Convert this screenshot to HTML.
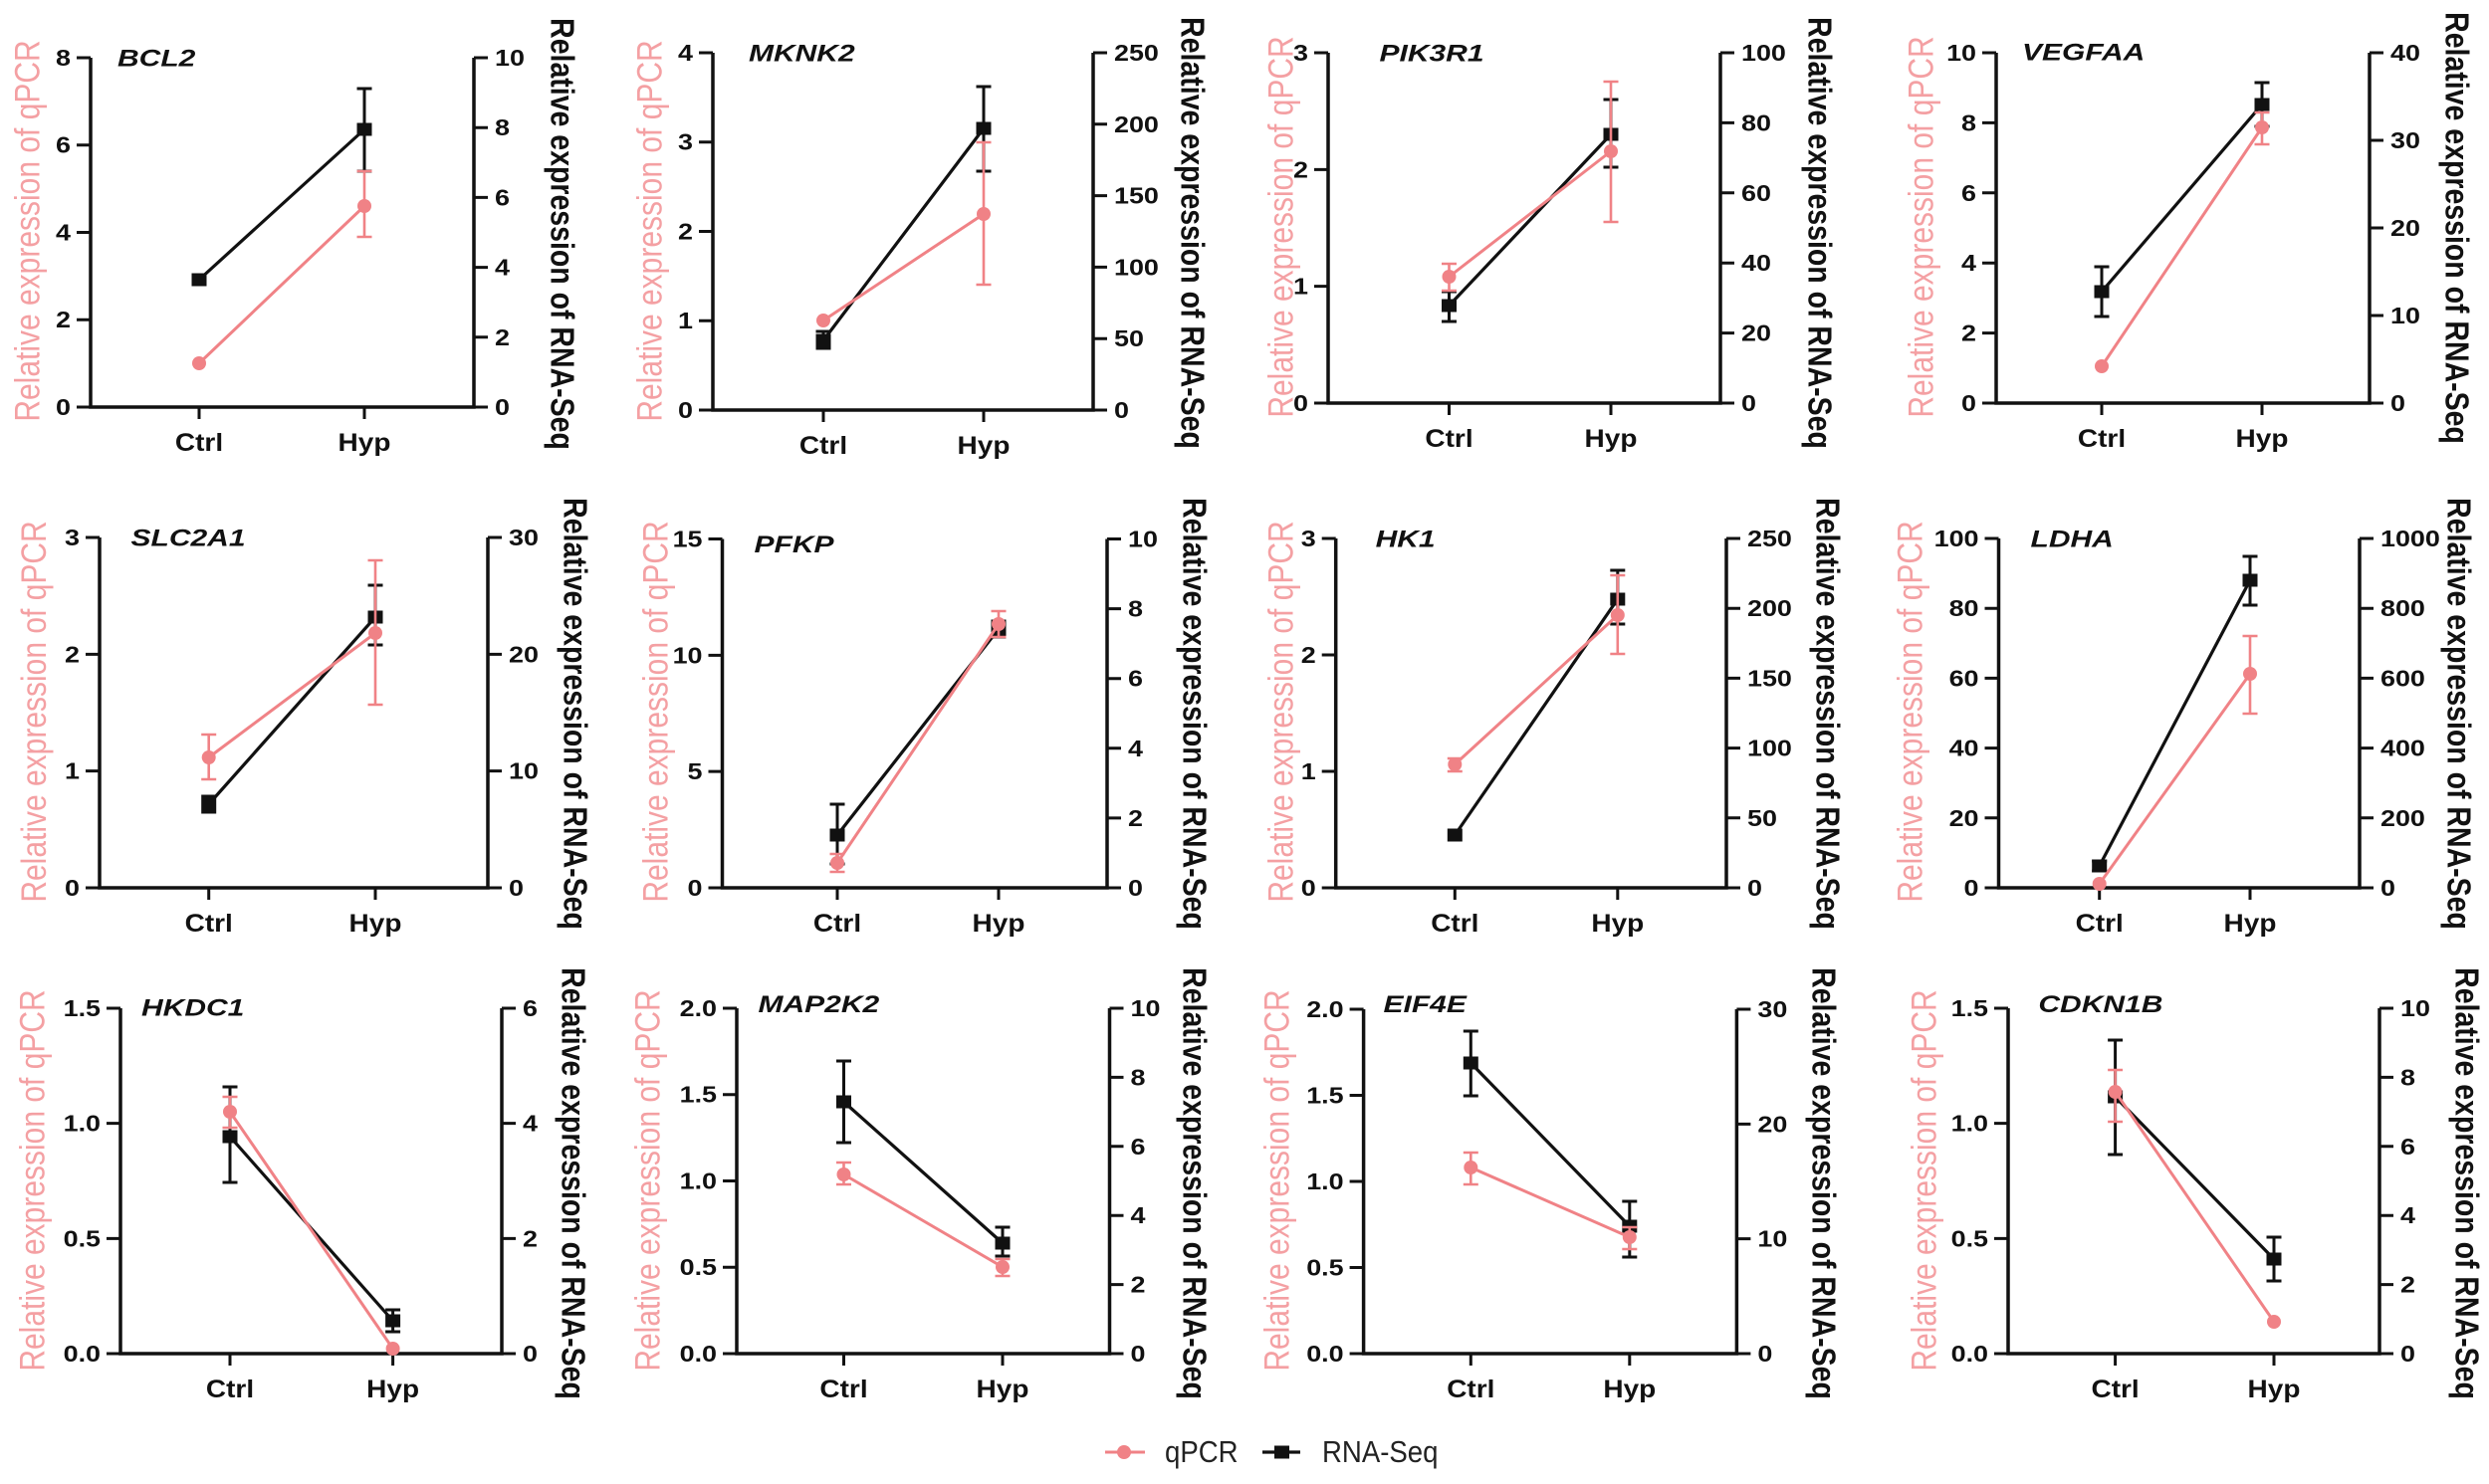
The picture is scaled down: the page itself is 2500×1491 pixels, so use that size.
<!DOCTYPE html>
<html>
<head>
<meta charset="utf-8">
<style>
html,body{margin:0;padding:0;background:#fff;}
svg{display:block;}
text{font-family:"Liberation Sans",Arial,sans-serif;}
.tk{font-weight:bold;font-size:23px;fill:#111;}
.ct{font-weight:bold;font-size:25px;fill:#111;}
.gn{font-weight:bold;font-style:italic;font-size:24px;fill:#111;}
.lt{font-size:30px;fill:#f4a0a3;}
.rt{font-weight:bold;font-size:28.5px;fill:#111;}
.lg{font-size:31px;fill:#222;}
.ax{fill:none;stroke:#111;stroke-width:3.5;stroke-linejoin:miter;}
.tkl{stroke:#111;stroke-width:3;fill:none;}
.bl{stroke:#111;stroke-width:3.2;fill:none;}
.pl{stroke:#f08286;stroke-width:3;fill:none;}
.be{stroke:#111;stroke-width:3;fill:none;}
.pe{stroke:#f08286;stroke-width:2.6;fill:none;}
.bm{fill:#111;}
.pm{fill:#f08286;}
</style>
</head>
<body>
<svg width="2500" height="1491" viewBox="0 0 2500 1491" xmlns="http://www.w3.org/2000/svg">

<!-- ================= P1 BCL2 ================= -->
<g>
<path class="ax" d="M91,58 L91,409 L476,409 L476,58"/>
<path class="tkl" d="M77,409H91M77,321.25H91M77,233.5H91M77,145.75H91M77,58H91 M476,409H490M476,338.8H490M476,268.6H490M476,198.4H490M476,128.2H490M476,58H490 M200,409V421M366,409V421"/>
<g transform="translate(71,0) scale(1.17,1)" text-anchor="end"><text class="tk" x="0" y="417">0</text><text class="tk" x="0" y="329.25">2</text><text class="tk" x="0" y="241.5">4</text><text class="tk" x="0" y="153.75">6</text><text class="tk" x="0" y="66">8</text></g>
<g transform="translate(497,0) scale(1.17,1)"><text class="tk" x="0" y="417">0</text><text class="tk" x="0" y="346.8">2</text><text class="tk" x="0" y="276.6">4</text><text class="tk" x="0" y="206.4">6</text><text class="tk" x="0" y="136.2">8</text><text class="tk" x="0" y="66">10</text></g>
<g transform="translate(200,0) scale(1.12,1)"><text class="ct" x="0" y="453" text-anchor="middle">Ctrl</text></g>
<g transform="translate(366,0) scale(1.12,1)"><text class="ct" x="0" y="453" text-anchor="middle">Hyp</text></g>
<g transform="translate(118,0) scale(1.25,1)"><text class="gn" x="0" y="66.6">BCL2</text></g>
<text class="lt" transform="translate(27,232) scale(1.18,1) rotate(-90)" text-anchor="middle" dominant-baseline="central">Relative expression of qPCR</text>
<text class="rt" transform="translate(565,235) scale(1.18,1) rotate(90)" text-anchor="middle" dominant-baseline="central">Relative expression of RNA-Seq</text>
<path class="bl" d="M200,281L366,130"/>
<path class="be" d="M366,89V172M358.5,89H373.5M358.5,172H373.5"/>
<rect class="bm" x="192.5" y="274.5" width="15" height="13"/><rect class="bm" x="358.5" y="123.5" width="15" height="13"/>
<path class="pl" d="M200,365L366,207"/>
<path class="pe" d="M366,172V238M358.5,172H373.5M358.5,238H373.5"/>
<circle class="pm" cx="200" cy="365" r="7"/><circle class="pm" cx="366" cy="207" r="7"/>
</g>

<!-- ================= P2 MKNK2 ================= -->
<g>
<path class="ax" d="M716,53 L716,412 L1098,412 L1098,53"/>
<path class="tkl" d="M702,412H716M702,322.25H716M702,232.5H716M702,142.75H716M702,53H716 M1098,412H1112M1098,340.2H1112M1098,268.4H1112M1098,196.6H1112M1098,124.8H1112M1098,53H1112 M827,412V424M988,412V424"/>
<g transform="translate(696,0) scale(1.17,1)" text-anchor="end"><text class="tk" x="0" y="420">0</text><text class="tk" x="0" y="330.25">1</text><text class="tk" x="0" y="240.5">2</text><text class="tk" x="0" y="150.75">3</text><text class="tk" x="0" y="61">4</text></g>
<g transform="translate(1119,0) scale(1.17,1)"><text class="tk" x="0" y="420">0</text><text class="tk" x="0" y="348.2">50</text><text class="tk" x="0" y="276.4">100</text><text class="tk" x="0" y="204.6">150</text><text class="tk" x="0" y="132.8">200</text><text class="tk" x="0" y="61">250</text></g>
<g transform="translate(827,0) scale(1.12,1)"><text class="ct" x="0" y="456" text-anchor="middle">Ctrl</text></g>
<g transform="translate(988,0) scale(1.12,1)"><text class="ct" x="0" y="456" text-anchor="middle">Hyp</text></g>
<g transform="translate(752,0) scale(1.25,1)"><text class="gn" x="0" y="61.6">MKNK2</text></g>
<text class="lt" transform="translate(652,232) scale(1.18,1) rotate(-90)" text-anchor="middle" dominant-baseline="central">Relative expression of qPCR</text>
<text class="rt" transform="translate(1198,234) scale(1.18,1) rotate(90)" text-anchor="middle" dominant-baseline="central">Relative expression of RNA-Seq</text>
<path class="bl" d="M827,342L988,129"/>
<path class="be" d="M827,333V350M819.5,333H834.5M819.5,350H834.5 M988,87V172M980.5,87H995.5M980.5,172H995.5"/>
<rect class="bm" x="819.5" y="335.5" width="15" height="13"/><rect class="bm" x="980.5" y="122.5" width="15" height="13"/>
<path class="pl" d="M827,322L988,215"/>
<path class="pe" d="M988,143V286M980.5,143H995.5M980.5,286H995.5"/>
<circle class="pm" cx="827" cy="322" r="7"/><circle class="pm" cx="988" cy="215" r="7"/>
</g>

<!-- ================= P3 PIK3R1 ================= -->
<g>
<path class="ax" d="M1334,53 L1334,405 L1728,405 L1728,53"/>
<path class="tkl" d="M1320,405H1334M1320,287.67H1334M1320,170.33H1334M1320,53H1334 M1728,405H1742M1728,334.6H1742M1728,264.2H1742M1728,193.8H1742M1728,123.4H1742M1728,53H1742 M1455.5,405V417M1618,405V417"/>
<g transform="translate(1314,0) scale(1.17,1)" text-anchor="end"><text class="tk" x="0" y="413">0</text><text class="tk" x="0" y="295.67">1</text><text class="tk" x="0" y="178.33">2</text><text class="tk" x="0" y="61">3</text></g>
<g transform="translate(1749,0) scale(1.17,1)"><text class="tk" x="0" y="413">0</text><text class="tk" x="0" y="342.6">20</text><text class="tk" x="0" y="272.2">40</text><text class="tk" x="0" y="201.8">60</text><text class="tk" x="0" y="131.4">80</text><text class="tk" x="0" y="61">100</text></g>
<g transform="translate(1455.5,0) scale(1.12,1)"><text class="ct" x="0" y="449" text-anchor="middle">Ctrl</text></g>
<g transform="translate(1618,0) scale(1.12,1)"><text class="ct" x="0" y="449" text-anchor="middle">Hyp</text></g>
<g transform="translate(1385.5,0) scale(1.25,1)"><text class="gn" x="0" y="61.6">PIK3R1</text></g>
<text class="lt" transform="translate(1286,228) scale(1.18,1) rotate(-90)" text-anchor="middle" dominant-baseline="central">Relative expression of qPCR</text>
<text class="rt" transform="translate(1828,234) scale(1.18,1) rotate(90)" text-anchor="middle" dominant-baseline="central">Relative expression of RNA-Seq</text>
<path class="bl" d="M1455.5,307L1618,135"/>
<path class="be" d="M1455.5,293V323M1448,293H1463M1448,323H1463 M1618,100V168M1610.5,100H1625.5M1610.5,168H1625.5"/>
<rect class="bm" x="1448" y="300.5" width="15" height="13"/><rect class="bm" x="1610.5" y="128.5" width="15" height="13"/>
<path class="pl" d="M1455.5,278L1618,152"/>
<path class="pe" d="M1455.5,265V292M1448,265H1463M1448,292H1463 M1618,82V223M1610.5,82H1625.5M1610.5,223H1625.5"/>
<circle class="pm" cx="1455.5" cy="278" r="7"/><circle class="pm" cx="1618" cy="152" r="7"/>
</g>

<!-- ================= P4 VEGFAA ================= -->
<g>
<path class="ax" d="M2005,53 L2005,405 L2380,405 L2380,53"/>
<path class="tkl" d="M1991,405H2005M1991,334.6H2005M1991,264.2H2005M1991,193.8H2005M1991,123.4H2005M1991,53H2005 M2380,405H2394M2380,317H2394M2380,229H2394M2380,141H2394M2380,53H2394 M2111,405V417M2272,405V417"/>
<g transform="translate(1985,0) scale(1.17,1)" text-anchor="end"><text class="tk" x="0" y="413">0</text><text class="tk" x="0" y="342.6">2</text><text class="tk" x="0" y="272.2">4</text><text class="tk" x="0" y="201.8">6</text><text class="tk" x="0" y="131.4">8</text><text class="tk" x="0" y="61">10</text></g>
<g transform="translate(2401,0) scale(1.17,1)"><text class="tk" x="0" y="413">0</text><text class="tk" x="0" y="325">10</text><text class="tk" x="0" y="237">20</text><text class="tk" x="0" y="149">30</text><text class="tk" x="0" y="61">40</text></g>
<g transform="translate(2111,0) scale(1.12,1)"><text class="ct" x="0" y="449" text-anchor="middle">Ctrl</text></g>
<g transform="translate(2272,0) scale(1.12,1)"><text class="ct" x="0" y="449" text-anchor="middle">Hyp</text></g>
<g transform="translate(2031,0) scale(1.25,1)"><text class="gn" x="0" y="60.6">VEGFAA</text></g>
<text class="lt" transform="translate(1929,228) scale(1.18,1) rotate(-90)" text-anchor="middle" dominant-baseline="central">Relative expression of qPCR</text>
<text class="rt" transform="translate(2468,229) scale(1.18,1) rotate(90)" text-anchor="middle" dominant-baseline="central">Relative expression of RNA-Seq</text>
<path class="bl" d="M2111,293L2272,105"/>
<path class="be" d="M2111,268V318M2103.5,268H2118.5M2103.5,318H2118.5 M2272,83V127M2264.5,83H2279.5M2264.5,127H2279.5"/>
<rect class="bm" x="2103.5" y="286.5" width="15" height="13"/><rect class="bm" x="2264.5" y="98.5" width="15" height="13"/>
<path class="pl" d="M2111,368L2272,128"/>
<path class="pe" d="M2272,113V145M2264.5,113H2279.5M2264.5,145H2279.5"/>
<circle class="pm" cx="2111" cy="368" r="7"/><circle class="pm" cx="2272" cy="128" r="7"/>
</g>

<!-- ================= P5 SLC2A1 ================= -->
<g>
<path class="ax" d="M100,540 L100,892 L490,892 L490,540"/>
<path class="tkl" d="M86,892H100M86,774.67H100M86,657.33H100M86,540H100 M490,892H504M490,774.67H504M490,657.33H504M490,540H504 M209.7,892V904M377,892V904"/>
<g transform="translate(80,0) scale(1.17,1)" text-anchor="end"><text class="tk" x="0" y="900">0</text><text class="tk" x="0" y="782.67">1</text><text class="tk" x="0" y="665.33">2</text><text class="tk" x="0" y="548">3</text></g>
<g transform="translate(511,0) scale(1.17,1)"><text class="tk" x="0" y="900">0</text><text class="tk" x="0" y="782.67">10</text><text class="tk" x="0" y="665.33">20</text><text class="tk" x="0" y="548">30</text></g>
<g transform="translate(209.7,0) scale(1.12,1)"><text class="ct" x="0" y="936" text-anchor="middle">Ctrl</text></g>
<g transform="translate(377,0) scale(1.12,1)"><text class="ct" x="0" y="936" text-anchor="middle">Hyp</text></g>
<g transform="translate(131.5,0) scale(1.25,1)"><text class="gn" x="0" y="548.6">SLC2A1</text></g>
<text class="lt" transform="translate(33.5,715) scale(1.18,1) rotate(-90)" text-anchor="middle" dominant-baseline="central">Relative expression of qPCR</text>
<text class="rt" transform="translate(578,717) scale(1.18,1) rotate(90)" text-anchor="middle" dominant-baseline="central">Relative expression of RNA-Seq</text>
<path class="bl" d="M209.7,808L377,620"/>
<path class="be" d="M209.7,800V816M202.2,800H217.2M202.2,816H217.2 M377,588V648M369.5,588H384.5M369.5,648H384.5"/>
<rect class="bm" x="202.2" y="801.5" width="15" height="13"/><rect class="bm" x="369.5" y="613.5" width="15" height="13"/>
<path class="pl" d="M209.7,761L377,636"/>
<path class="pe" d="M209.7,738V783M202.2,738H217.2M202.2,783H217.2 M377,563V708M369.5,563H384.5M369.5,708H384.5"/>
<circle class="pm" cx="209.7" cy="761" r="7"/><circle class="pm" cx="377" cy="636" r="7"/>
</g>

<!-- ================= P6 PFKP ================= -->
<g>
<path class="ax" d="M725.5,541.5 L725.5,892 L1112,892 L1112,541.5"/>
<path class="tkl" d="M711.5,892H725.5M711.5,775.17H725.5M711.5,658.33H725.5M711.5,541.5H725.5 M1112,892H1126M1112,821.9H1126M1112,751.8H1126M1112,681.7H1126M1112,611.6H1126M1112,541.5H1126 M841,892V904M1003,892V904"/>
<g transform="translate(705.5,0) scale(1.17,1)" text-anchor="end"><text class="tk" x="0" y="900">0</text><text class="tk" x="0" y="783.17">5</text><text class="tk" x="0" y="666.33">10</text><text class="tk" x="0" y="549.5">15</text></g>
<g transform="translate(1133,0) scale(1.17,1)"><text class="tk" x="0" y="900">0</text><text class="tk" x="0" y="829.9">2</text><text class="tk" x="0" y="759.8">4</text><text class="tk" x="0" y="689.7">6</text><text class="tk" x="0" y="619.6">8</text><text class="tk" x="0" y="549.5">10</text></g>
<g transform="translate(841,0) scale(1.12,1)"><text class="ct" x="0" y="936" text-anchor="middle">Ctrl</text></g>
<g transform="translate(1003,0) scale(1.12,1)"><text class="ct" x="0" y="936" text-anchor="middle">Hyp</text></g>
<g transform="translate(757.5,0) scale(1.25,1)"><text class="gn" x="0" y="555">PFKP</text></g>
<text class="lt" transform="translate(658,715) scale(1.18,1) rotate(-90)" text-anchor="middle" dominant-baseline="central">Relative expression of qPCR</text>
<text class="rt" transform="translate(1200,717) scale(1.18,1) rotate(90)" text-anchor="middle" dominant-baseline="central">Relative expression of RNA-Seq</text>
<path class="bl" d="M841,839L1003,632"/>
<path class="be" d="M841,808V868M833.5,808H848.5M833.5,868H848.5 M1003,624V640M995.5,624H1010.5M995.5,640H1010.5"/>
<rect class="bm" x="833.5" y="832.5" width="15" height="13"/><rect class="bm" x="995.5" y="625.5" width="15" height="13"/>
<path class="pl" d="M841,867L1003,627"/>
<path class="pe" d="M841,858V876M833.5,858H848.5M833.5,876H848.5 M1003,614V640M995.5,614H1010.5M995.5,640H1010.5"/>
<circle class="pm" cx="841" cy="867" r="7"/><circle class="pm" cx="1003" cy="627" r="7"/>
</g>

<!-- ================= P7 HK1 ================= -->
<g>
<path class="ax" d="M1341.7,541 L1341.7,892 L1734,892 L1734,541"/>
<path class="tkl" d="M1327.7,892H1341.7M1327.7,775H1341.7M1327.7,658H1341.7M1327.7,541H1341.7 M1734,892H1748M1734,821.8H1748M1734,751.6H1748M1734,681.4H1748M1734,611.2H1748M1734,541H1748 M1461.3,892V904M1624.8,892V904"/>
<g transform="translate(1321.7,0) scale(1.17,1)" text-anchor="end"><text class="tk" x="0" y="900">0</text><text class="tk" x="0" y="783">1</text><text class="tk" x="0" y="666">2</text><text class="tk" x="0" y="549">3</text></g>
<g transform="translate(1755,0) scale(1.17,1)"><text class="tk" x="0" y="900">0</text><text class="tk" x="0" y="829.8">50</text><text class="tk" x="0" y="759.6">100</text><text class="tk" x="0" y="689.4">150</text><text class="tk" x="0" y="619.2">200</text><text class="tk" x="0" y="549">250</text></g>
<g transform="translate(1461.3,0) scale(1.12,1)"><text class="ct" x="0" y="936" text-anchor="middle">Ctrl</text></g>
<g transform="translate(1624.8,0) scale(1.12,1)"><text class="ct" x="0" y="936" text-anchor="middle">Hyp</text></g>
<g transform="translate(1381.6,0) scale(1.25,1)"><text class="gn" x="0" y="549.6">HK1</text></g>
<text class="lt" transform="translate(1286,715) scale(1.18,1) rotate(-90)" text-anchor="middle" dominant-baseline="central">Relative expression of qPCR</text>
<text class="rt" transform="translate(1836,717) scale(1.18,1) rotate(90)" text-anchor="middle" dominant-baseline="central">Relative expression of RNA-Seq</text>
<path class="bl" d="M1461.3,839L1624.8,602"/>
<path class="be" d="M1624.8,573V627M1617.3,573H1632.3M1617.3,627H1632.3"/>
<rect class="bm" x="1453.8" y="832.5" width="15" height="13"/><rect class="bm" x="1617.3" y="595.5" width="15" height="13"/>
<path class="pl" d="M1461.3,768L1624.8,618"/>
<path class="pe" d="M1461.3,762V775M1453.8,762H1468.8M1453.8,775H1468.8 M1624.8,578V657M1617.3,578H1632.3M1617.3,657H1632.3"/>
<circle class="pm" cx="1461.3" cy="768" r="7"/><circle class="pm" cx="1624.8" cy="618" r="7"/>
</g>

<!-- ================= P8 LDHA ================= -->
<g>
<path class="ax" d="M2007.5,541 L2007.5,892 L2370,892 L2370,541"/>
<path class="tkl" d="M1993.5,892H2007.5M1993.5,821.8H2007.5M1993.5,751.6H2007.5M1993.5,681.4H2007.5M1993.5,611.2H2007.5M1993.5,541H2007.5 M2370,892H2384M2370,821.8H2384M2370,751.6H2384M2370,681.4H2384M2370,611.2H2384M2370,541H2384 M2108.7,892V904M2260,892V904"/>
<g transform="translate(1987.5,0) scale(1.17,1)" text-anchor="end"><text class="tk" x="0" y="900">0</text><text class="tk" x="0" y="829.8">20</text><text class="tk" x="0" y="759.6">40</text><text class="tk" x="0" y="689.4">60</text><text class="tk" x="0" y="619.2">80</text><text class="tk" x="0" y="549">100</text></g>
<g transform="translate(2391,0) scale(1.17,1)"><text class="tk" x="0" y="900">0</text><text class="tk" x="0" y="829.8">200</text><text class="tk" x="0" y="759.6">400</text><text class="tk" x="0" y="689.4">600</text><text class="tk" x="0" y="619.2">800</text><text class="tk" x="0" y="549">1000</text></g>
<g transform="translate(2108.7,0) scale(1.12,1)"><text class="ct" x="0" y="936" text-anchor="middle">Ctrl</text></g>
<g transform="translate(2260,0) scale(1.12,1)"><text class="ct" x="0" y="936" text-anchor="middle">Hyp</text></g>
<g transform="translate(2039.5,0) scale(1.25,1)"><text class="gn" x="0" y="549.6">LDHA</text></g>
<text class="lt" transform="translate(1918,715) scale(1.18,1) rotate(-90)" text-anchor="middle" dominant-baseline="central">Relative expression of qPCR</text>
<text class="rt" transform="translate(2470,717) scale(1.18,1) rotate(90)" text-anchor="middle" dominant-baseline="central">Relative expression of RNA-Seq</text>
<path class="bl" d="M2108.7,870L2260,583"/>
<path class="be" d="M2108.7,865V875M2101.2,865H2116.2M2101.2,875H2116.2 M2260,559V608M2252.5,559H2267.5M2252.5,608H2267.5"/>
<rect class="bm" x="2101.2" y="863.5" width="15" height="13"/><rect class="bm" x="2252.5" y="576.5" width="15" height="13"/>
<path class="pl" d="M2108.7,888L2260,677"/>
<path class="pe" d="M2260,639V717M2252.5,639H2267.5M2252.5,717H2267.5"/>
<circle class="pm" cx="2108.7" cy="888" r="7"/><circle class="pm" cx="2260" cy="677" r="7"/>
</g>

<!-- ================= P9 HKDC1 ================= -->
<g>
<path class="ax" d="M121,1013 L121,1360 L504,1360 L504,1013"/>
<path class="tkl" d="M107,1360H121M107,1244.33H121M107,1128.67H121M107,1013H121 M504,1360H518M504,1244.33H518M504,1128.67H518M504,1013H518 M231,1360V1372M394.6,1360V1372"/>
<g transform="translate(101,0) scale(1.17,1)" text-anchor="end"><text class="tk" x="0" y="1368">0.0</text><text class="tk" x="0" y="1252.33">0.5</text><text class="tk" x="0" y="1136.67">1.0</text><text class="tk" x="0" y="1021">1.5</text></g>
<g transform="translate(525,0) scale(1.17,1)"><text class="tk" x="0" y="1368">0</text><text class="tk" x="0" y="1252.33">2</text><text class="tk" x="0" y="1136.67">4</text><text class="tk" x="0" y="1021">6</text></g>
<g transform="translate(231,0) scale(1.12,1)"><text class="ct" x="0" y="1404" text-anchor="middle">Ctrl</text></g>
<g transform="translate(394.6,0) scale(1.12,1)"><text class="ct" x="0" y="1404" text-anchor="middle">Hyp</text></g>
<g transform="translate(142,0) scale(1.25,1)"><text class="gn" x="0" y="1020.6">HKDC1</text></g>
<text class="lt" transform="translate(32,1186) scale(1.18,1) rotate(-90)" text-anchor="middle" dominant-baseline="central">Relative expression of qPCR</text>
<text class="rt" transform="translate(575.6,1189) scale(1.18,1) rotate(90)" text-anchor="middle" dominant-baseline="central">Relative expression of RNA-Seq</text>
<path class="bl" d="M231,1142L394.6,1327"/>
<path class="be" d="M231,1092V1188M223.5,1092H238.5M223.5,1188H238.5 M394.6,1316V1338M387.1,1316H402.1M387.1,1338H402.1"/>
<rect class="bm" x="223.5" y="1135.5" width="15" height="13"/><rect class="bm" x="387.1" y="1320.5" width="15" height="13"/>
<path class="pl" d="M231,1117L394.6,1355"/>
<path class="pe" d="M231,1102V1133M223.5,1102H238.5M223.5,1133H238.5"/>
<circle class="pm" cx="231" cy="1117" r="7"/><circle class="pm" cx="394.6" cy="1355" r="7"/>
</g>

<!-- ================= P10 MAP2K2 ================= -->
<g>
<path class="ax" d="M740,1013 L740,1360 L1114.5,1360 L1114.5,1013"/>
<path class="tkl" d="M726,1360H740M726,1273.25H740M726,1186.5H740M726,1099.75H740M726,1013H740 M1114.5,1360H1128.5M1114.5,1290.6H1128.5M1114.5,1221.2H1128.5M1114.5,1151.8H1128.5M1114.5,1082.4H1128.5M1114.5,1013H1128.5 M847.5,1360V1372M1007,1360V1372"/>
<g transform="translate(720,0) scale(1.17,1)" text-anchor="end"><text class="tk" x="0" y="1368">0.0</text><text class="tk" x="0" y="1281.25">0.5</text><text class="tk" x="0" y="1194.5">1.0</text><text class="tk" x="0" y="1107.75">1.5</text><text class="tk" x="0" y="1021">2.0</text></g>
<g transform="translate(1135.5,0) scale(1.17,1)"><text class="tk" x="0" y="1368">0</text><text class="tk" x="0" y="1298.6">2</text><text class="tk" x="0" y="1229.2">4</text><text class="tk" x="0" y="1159.8">6</text><text class="tk" x="0" y="1090.4">8</text><text class="tk" x="0" y="1021">10</text></g>
<g transform="translate(847.5,0) scale(1.12,1)"><text class="ct" x="0" y="1404" text-anchor="middle">Ctrl</text></g>
<g transform="translate(1007,0) scale(1.12,1)"><text class="ct" x="0" y="1404" text-anchor="middle">Hyp</text></g>
<g transform="translate(761.5,0) scale(1.25,1)"><text class="gn" x="0" y="1017">MAP2K2</text></g>
<text class="lt" transform="translate(650,1186) scale(1.18,1) rotate(-90)" text-anchor="middle" dominant-baseline="central">Relative expression of qPCR</text>
<text class="rt" transform="translate(1200,1189) scale(1.18,1) rotate(90)" text-anchor="middle" dominant-baseline="central">Relative expression of RNA-Seq</text>
<path class="bl" d="M847.5,1107L1007,1249"/>
<path class="be" d="M847.5,1066V1148M840,1066H855M840,1148H855 M1007,1233V1262M999.5,1233H1014.5M999.5,1262H1014.5"/>
<rect class="bm" x="840" y="1100.5" width="15" height="13"/><rect class="bm" x="999.5" y="1242.5" width="15" height="13"/>
<path class="pl" d="M847.5,1180L1007,1273"/>
<path class="pe" d="M847.5,1168V1190M840,1168H855M840,1190H855 M1007,1265V1282M999.5,1265H1014.5M999.5,1282H1014.5"/>
<circle class="pm" cx="847.5" cy="1180" r="7"/><circle class="pm" cx="1007" cy="1273" r="7"/>
</g>

<!-- ================= P11 EIF4E ================= -->
<g>
<path class="ax" d="M1369.6,1014 L1369.6,1360 L1744.4,1360 L1744.4,1014"/>
<path class="tkl" d="M1355.6,1360H1369.6M1355.6,1273.5H1369.6M1355.6,1187H1369.6M1355.6,1100.5H1369.6M1355.6,1014H1369.6 M1744.4,1360H1758.4M1744.4,1244.67H1758.4M1744.4,1129.33H1758.4M1744.4,1014H1758.4 M1477.3,1360V1372M1636.8,1360V1372"/>
<g transform="translate(1349.6,0) scale(1.17,1)" text-anchor="end"><text class="tk" x="0" y="1368">0.0</text><text class="tk" x="0" y="1281.5">0.5</text><text class="tk" x="0" y="1195">1.0</text><text class="tk" x="0" y="1108.5">1.5</text><text class="tk" x="0" y="1022">2.0</text></g>
<g transform="translate(1765.4,0) scale(1.17,1)"><text class="tk" x="0" y="1368">0</text><text class="tk" x="0" y="1252.67">10</text><text class="tk" x="0" y="1137.33">20</text><text class="tk" x="0" y="1022">30</text></g>
<g transform="translate(1477.3,0) scale(1.12,1)"><text class="ct" x="0" y="1404" text-anchor="middle">Ctrl</text></g>
<g transform="translate(1636.8,0) scale(1.12,1)"><text class="ct" x="0" y="1404" text-anchor="middle">Hyp</text></g>
<g transform="translate(1389.5,0) scale(1.25,1)"><text class="gn" x="0" y="1017">EIF4E</text></g>
<text class="lt" transform="translate(1282,1186) scale(1.18,1) rotate(-90)" text-anchor="middle" dominant-baseline="central">Relative expression of qPCR</text>
<text class="rt" transform="translate(1832,1189) scale(1.18,1) rotate(90)" text-anchor="middle" dominant-baseline="central">Relative expression of RNA-Seq</text>
<path class="bl" d="M1477.3,1068L1636.8,1232"/>
<path class="be" d="M1477.3,1036V1101M1469.8,1036H1484.8M1469.8,1101H1484.8 M1636.8,1207V1263M1629.3,1207H1644.3M1629.3,1263H1644.3"/>
<rect class="bm" x="1469.8" y="1061.5" width="15" height="13"/><rect class="bm" x="1629.3" y="1225.5" width="15" height="13"/>
<path class="pl" d="M1477.3,1173L1636.8,1243"/>
<path class="pe" d="M1477.3,1158V1190M1469.8,1158H1484.8M1469.8,1190H1484.8 M1636.8,1233V1255M1629.3,1233H1644.3M1629.3,1255H1644.3"/>
<circle class="pm" cx="1477.3" cy="1173" r="7"/><circle class="pm" cx="1636.8" cy="1243" r="7"/>
</g>

<!-- ================= P12 CDKN1B ================= -->
<g>
<path class="ax" d="M2017,1013 L2017,1360 L2390,1360 L2390,1013"/>
<path class="tkl" d="M2003,1360H2017M2003,1244.33H2017M2003,1128.67H2017M2003,1013H2017 M2390,1360H2404M2390,1290.6H2404M2390,1221.2H2404M2390,1151.8H2404M2390,1082.4H2404M2390,1013H2404 M2124.6,1360V1372M2284,1360V1372"/>
<g transform="translate(1997,0) scale(1.17,1)" text-anchor="end"><text class="tk" x="0" y="1368">0.0</text><text class="tk" x="0" y="1252.33">0.5</text><text class="tk" x="0" y="1136.67">1.0</text><text class="tk" x="0" y="1021">1.5</text></g>
<g transform="translate(2411,0) scale(1.17,1)"><text class="tk" x="0" y="1368">0</text><text class="tk" x="0" y="1298.6">2</text><text class="tk" x="0" y="1229.2">4</text><text class="tk" x="0" y="1159.8">6</text><text class="tk" x="0" y="1090.4">8</text><text class="tk" x="0" y="1021">10</text></g>
<g transform="translate(2124.6,0) scale(1.12,1)"><text class="ct" x="0" y="1404" text-anchor="middle">Ctrl</text></g>
<g transform="translate(2284,0) scale(1.12,1)"><text class="ct" x="0" y="1404" text-anchor="middle">Hyp</text></g>
<g transform="translate(2047.4,0) scale(1.25,1)"><text class="gn" x="0" y="1017">CDKN1B</text></g>
<text class="lt" transform="translate(1932,1186) scale(1.18,1) rotate(-90)" text-anchor="middle" dominant-baseline="central">Relative expression of qPCR</text>
<text class="rt" transform="translate(2478,1189) scale(1.18,1) rotate(90)" text-anchor="middle" dominant-baseline="central">Relative expression of RNA-Seq</text>
<path class="bl" d="M2124.6,1102L2284,1265"/>
<path class="be" d="M2124.6,1045V1160M2117.1,1045H2132.1M2117.1,1160H2132.1 M2284,1243V1287M2276.5,1243H2291.5M2276.5,1287H2291.5"/>
<rect class="bm" x="2117.1" y="1095.5" width="15" height="13"/><rect class="bm" x="2276.5" y="1258.5" width="15" height="13"/>
<path class="pl" d="M2124.6,1097L2284,1328"/>
<path class="pe" d="M2124.6,1075V1127M2117.1,1075H2132.1M2117.1,1127H2132.1"/>
<circle class="pm" cx="2124.6" cy="1097" r="7"/><circle class="pm" cx="2284" cy="1328" r="7"/>
</g>

<!-- ================= Legend ================= -->
<g>
<path class="pl" d="M1110,1459H1150"/>
<circle class="pm" cx="1129" cy="1459" r="7"/>
<g transform="translate(1170,0) scale(0.89,1)"><text class="lg" x="0" y="1469">qPCR</text></g>
<path class="bl" d="M1268,1459H1306"/>
<rect class="bm" x="1280" y="1452.5" width="15" height="13"/>
<g transform="translate(1328,0) scale(0.89,1)"><text class="lg" x="0" y="1469">RNA-Seq</text></g>
</g>

</svg>
</body>
</html>
